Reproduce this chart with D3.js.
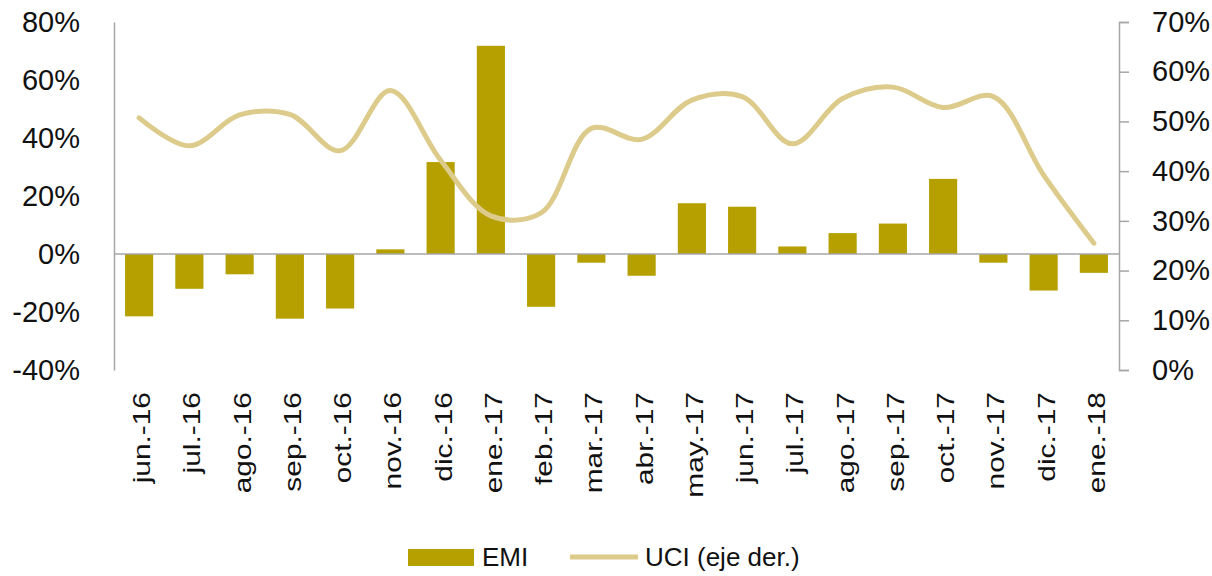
<!DOCTYPE html>
<html lang="es">
<head>
<meta charset="utf-8">
<title>EMI y UCI</title>
<script src="https://cdn.jsdelivr.net/npm/d3@7/dist/d3.min.js"></script>
<style>
  body { margin: 0; background: #fff; }
  svg text { font-family: "Liberation Sans", Arial, sans-serif; fill: #111; }
  .axis path, .axis line { stroke: #a6a6a6; stroke-width: 1.5; }
</style>
</head>
<body>
<script>
// categories (month labels)
var months = ["jun.-16", "jul.-16", "ago.-16", "sep.-16", "oct.-16", "nov.-16", "dic.-16",
              "ene.-17", "feb.-17", "mar.-17", "abr.-17", "may.-17", "jun.-17", "jul.-17",
              "ago.-17", "sep.-17", "oct.-17", "nov.-17", "dic.-17", "ene.-18"];

// EMI, bars, left axis
var emi = [-0.215, -0.12, -0.07, -0.223, -0.188, 0.016, 0.317, 0.718, -0.182, -0.03,
           -0.075, 0.175, 0.163, 0.026, 0.072, 0.105, 0.259, -0.03, -0.126, -0.065];

// UCI, line, right axis
var uci = [0.507, 0.451, 0.513, 0.514, 0.441, 0.562, 0.422, 0.31, 0.316, 0.486,
           0.464, 0.543, 0.55, 0.455, 0.546, 0.569, 0.528, 0.55, 0.392, 0.255];

var leftTicks = [-0.4, -0.2, 0, 0.2, 0.4, 0.6, 0.8];
var rightTicks = [0, 0.1, 0.2, 0.3, 0.4, 0.5, 0.6, 0.7];

var width = 1212, height = 576;
var x0 = 114, x1 = 1119, yTop = 22, yBot = 370;

var svg = d3.select("body").append("svg")
    .attr("width", width)
    .attr("height", height);

var x = d3.scaleBand()
    .domain(months)
    .range([x0, x1])
    .paddingInner(0.44)
    .paddingOuter(0.22);

var yL = d3.scaleLinear().domain([-0.4, 0.8]).range([yBot, yTop]);
var yR = d3.scaleLinear().domain([0, 0.7]).range([yBot, yTop]);

var pct = function(d) { return Math.round(d * 100) + "%"; };

// left axis
var gl = svg.append("g")
    .attr("class", "axis")
    .attr("transform", "translate(" + x0 + ",0)")
    .call(d3.axisLeft(yL).tickValues(leftTicks).tickFormat(pct).tickSize(0).tickPadding(34));
gl.selectAll("text").style("font-size", "29px");

// right axis
var gr = svg.append("g")
    .attr("class", "axis")
    .attr("transform", "translate(" + x1 + ",0)")
    .call(d3.axisRight(yR).tickValues(rightTicks).tickFormat(pct).tickSize(10).tickSizeOuter(10).tickPadding(23));
gr.selectAll("text").style("font-size", "29px");

// bars
svg.append("g").selectAll("rect")
    .data(emi)
    .enter()
    .append("rect")
    .attr("x", function(d, i) { return x(months[i]); })
    .attr("width", x.bandwidth())
    .attr("y", function(d) { return yL(Math.max(0, d)); })
    .attr("height", function(d) { return Math.abs(yL(d) - yL(0)); })
    .attr("fill", "#b5a000");

// zero line
svg.append("line")
    .attr("x1", x0).attr("x2", x1)
    .attr("y1", yL(0)).attr("y2", yL(0))
    .attr("stroke", "#a6a6a6")
    .attr("stroke-width", 1.5);

// UCI smoothed line
var line = d3.line()
    .x(function(d, i) { return x(months[i]) + x.bandwidth() / 2; })
    .y(function(d) { return yR(d); })
    .curve(d3.curveCatmullRom.alpha(0.5));

svg.append("path")
    .datum(uci)
    .attr("d", line)
    .attr("fill", "none")
    .attr("stroke", "#dccb8b")
    .attr("stroke-width", 5)
    .attr("stroke-linecap", "round");

// rotated month labels
svg.append("g").selectAll("text")
    .data(months)
    .enter()
    .append("text")
    .attr("transform", function(d) {
        var cx = x(d) + x.bandwidth() / 2;
        return "translate(" + (cx + 11) + ",392) rotate(-90) scale(1.3,1)";
    })
    .attr("text-anchor", "end")
    .style("font-size", "23px")
    .text(function(d) { return d; });

// legend
var legend = svg.append("g");
legend.append("rect")
    .attr("x", 408).attr("y", 549)
    .attr("width", 66).attr("height", 17)
    .attr("fill", "#b5a000");
legend.append("text")
    .attr("x", 482).attr("y", 566)
    .style("font-size", "26px")
    .text("EMI");
legend.append("line")
    .attr("x1", 570).attr("x2", 638)
    .attr("y1", 557).attr("y2", 557)
    .attr("stroke", "#dccb8b")
    .attr("stroke-width", 5);
legend.append("text")
    .attr("x", 645).attr("y", 566)
    .style("font-size", "26px")
    .text("UCI (eje der.)");
</script>
</body>
</html>
